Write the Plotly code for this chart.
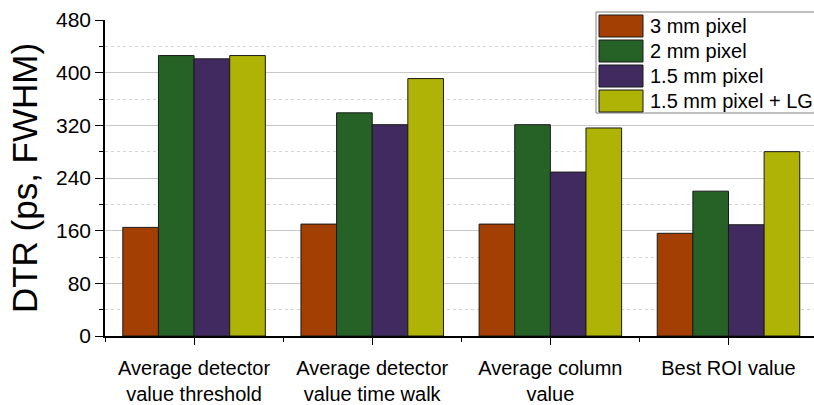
import plotly.graph_objects as go

categories = ["Average detector<br>value threshold", "Average detector<br>value time walk",
              "Average column<br>value", "Best ROI value"]
series_names = ["3 mm pixel", "2 mm pixel", "1.5 mm pixel", "1.5 mm pixel + LG"]
vals_3mm = [165, 170, 170, 156]
vals_2mm = [426, 339, 321, 220]
vals_15mm = [421, 321, 249, 169]
vals_15mm_lg = [426, 391, 316, 280]
colors = ["#A33F03", "#266226", "#402A60", "#AFB306"]
y_ticks = [0, 80, 160, 240, 320, 400, 480]
y_minor = [40, 120, 200, 280, 360, 440]

series = [vals_3mm, vals_2mm, vals_15mm, vals_15mm_lg]
x = list(range(len(categories)))

fig = go.Figure()
for name, vals, c in zip(series_names, series, colors):
    fig.add_trace(go.Bar(x=x, y=vals, name=name, marker=dict(color=c, line=dict(color="#1a1a1a", width=1)),
                         showlegend=False))

font = "Liberation Sans, Arial, sans-serif"
fig.update_layout(
    width=814, height=405,
    margin=dict(l=105, r=0, t=20, b=69),
    plot_bgcolor="white", paper_bgcolor="white",
    barmode="group", bargap=0.2, bargroupgap=0,
    font=dict(family=font, color="black"),
)
fig.update_xaxes(
    range=[-0.5, 3.48], tickmode="array", tickvals=x, ticktext=categories,
    tickfont=dict(size=20), showline=True, linecolor="black", linewidth=1.5,
    ticks="outside", ticklen=7, tickcolor="black", showgrid=False, zeroline=False,
    ticklabelstandoff=6,
    minor=dict(tickmode="array", tickvals=[-0.5, 0.5, 1.5, 2.5, 3.5], ticks="outside", ticklen=4, tickcolor="black"),
)
fig.update_yaxes(
    range=[0, 480], tickmode="array", tickvals=y_ticks, tickfont=dict(size=21),
    showline=True, linecolor="black", linewidth=1.5, ticks="outside", ticklen=8, tickcolor="black",
    showgrid=True, gridcolor="#c8c8c8", gridwidth=1, zeroline=False,
    minor=dict(tickmode="array", tickvals=y_minor, ticks="outside", ticklen=4,
               tickcolor="black", showgrid=True, gridcolor="#d4d4d4", griddash="dot", gridwidth=1),
    title=dict(text="DTR (ps, FWHM)", font=dict(size=35), standoff=8),
)

# hide the gridline on the top edge (no line at 480 in the reference)
fig.add_shape(type="line", xref="x", yref="y", x0=-0.49, x1=3.48, y0=480, y1=480,
              line=dict(color="white", width=3), layer="below")

# Legend drawn as a box with swatches
lx0, ly0 = 596, 12
row_h = 25
fig.add_shape(type="rect", xref="paper", yref="paper",
              x0=(lx0 - 105) / 709, x1=(815 - 105) / 709,
              y0=(336 - 113) / 316, y1=(336 - ly0) / 316,
              line=dict(color="#808080", width=1), fillcolor="white", layer="above")
for i, (name, c) in enumerate(zip(series_names, colors)):
    top = ly0 + 3 + i * row_h
    fig.add_shape(type="rect", xref="paper", yref="paper",
                  x0=(599 - 105) / 709, x1=(643 - 105) / 709,
                  y0=(336 - (top + 22)) / 316, y1=(336 - top) / 316,
                  line=dict(color="#1a1a1a", width=1), fillcolor=c, layer="above")
    fig.add_annotation(xref="paper", yref="paper", x=(648 - 105) / 709, y=(336 - (top + 11)) / 316,
                       text=name, showarrow=False, xanchor="left", yanchor="middle",
                       font=dict(size=20, color="black", family=font))

fig.write_html("out.html")
